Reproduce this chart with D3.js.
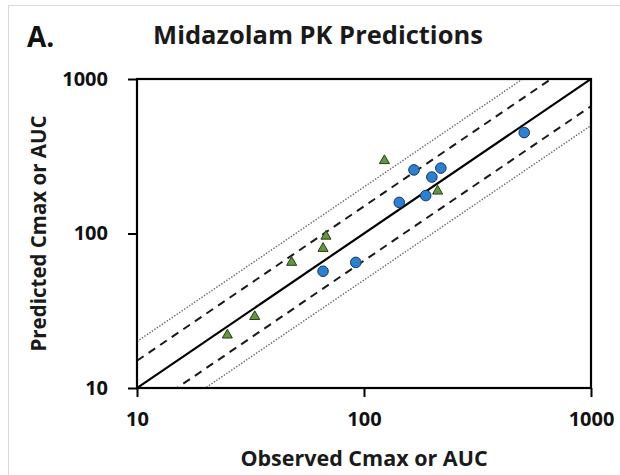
<!DOCTYPE html>
<html>
<head>
<meta charset="utf-8">
<script src="https://cdn.jsdelivr.net/npm/d3@7/dist/d3.min.js"></script>
<style>
  html, body { margin: 0; padding: 0; background: #fff; }
  svg { display: block; font-family: "Open Sans", "DejaVu Sans", sans-serif; }
</style>
</head>
<body>
<svg id="chart" width="620" height="475"></svg>
<script>
// Observed vs predicted exposure (Cmax or AUC), two groups of studies
const circleObserved  = [508, 166, 218, 199, 143, 187, 92, 66];
const circlePredicted = [450, 258, 265, 232, 159, 176, 65, 57];
const triangleObserved  = [123, 211, 68, 66, 48, 33, 25];
const trianglePredicted = [296, 188, 96, 80, 65, 29, 22];

// Unity line plus 1.5-fold and 2-fold bounds
const unityFold = [1];
const innerFolds = [1.5, 1 / 1.5];
const outerFolds = [2, 1 / 2];

const axisDomain = [10, 1000];
const tickValues = [10, 100, 1000];

const titleText = "Midazolam PK Predictions";
const panelLabel = "A.";
const xTitle = "Observed Cmax or AUC";
const yTitle = "Predicted Cmax or AUC";

const svg = d3.select("#chart");
const plot = { left: 137, right: 591, top: 79, bottom: 388 };

// faint outer frame of the figure panel
svg.append("rect")
  .attr("x", 8.5).attr("y", 5.5)
  .attr("width", 640).attr("height", 500)
  .attr("fill", "none").attr("stroke", "#d9d9d9").attr("stroke-width", 1);

const x = d3.scaleLog().domain(axisDomain).range([plot.left, plot.right]);
const y = d3.scaleLog().domain(axisDomain).range([plot.bottom, plot.top]);

svg.append("defs").append("clipPath").attr("id", "plotClip")
  .append("rect")
  .attr("x", plot.left).attr("y", plot.top)
  .attr("width", plot.right - plot.left).attr("height", plot.bottom - plot.top);

const lineLayer = svg.append("g").attr("clip-path", "url(#plotClip)");

function foldLine(f) {
  return d3.line()([
    [x(axisDomain[0]), y(axisDomain[0] * f)],
    [x(axisDomain[1]), y(axisDomain[1] * f)]
  ]);
}

lineLayer.selectAll("path.outer").data(outerFolds).join("path")
  .attr("class", "outer")
  .attr("d", foldLine)
  .attr("fill", "none").attr("stroke", "#666")
  .attr("stroke-width", 1.4).attr("stroke-dasharray", "1.4,1.6");

lineLayer.selectAll("path.inner").data(innerFolds).join("path")
  .attr("class", "inner")
  .attr("d", foldLine)
  .attr("fill", "none").attr("stroke", "#1a1a1a")
  .attr("stroke-width", 2).attr("stroke-dasharray", "8,6");

lineLayer.selectAll("path.unity").data(unityFold).join("path")
  .attr("class", "unity")
  .attr("d", foldLine)
  .attr("fill", "none").attr("stroke", "#000")
  .attr("stroke-width", 2.2);

// markers
const circles = circleObserved.map((v, i) => ({ o: v, p: circlePredicted[i] }));
const triangles = triangleObserved.map((v, i) => ({ o: v, p: trianglePredicted[i] }));

svg.append("g").selectAll("path").data(triangles).join("path")
  .attr("transform", d => `translate(${x(d.o)},${y(d.p)})`)
  .attr("d", d3.symbol().type(d3.symbolTriangle).size(44))
  .attr("fill", "#5f9b3b").attr("stroke", "#2a3a1a").attr("stroke-width", 1);

svg.append("g").selectAll("circle").data(circles).join("circle")
  .attr("cx", d => x(d.o)).attr("cy", d => y(d.p)).attr("r", 5.3)
  .attr("fill", "#2a80d2").attr("stroke", "#1a3558").attr("stroke-width", 1);

// frame
svg.append("rect")
  .attr("x", plot.left).attr("y", plot.top)
  .attr("width", plot.right - plot.left).attr("height", plot.bottom - plot.top)
  .attr("fill", "none").attr("stroke", "#000").attr("stroke-width", 2.2);

// axes
const xAxis = d3.axisBottom(x).tickValues(tickValues).tickFormat(d3.format("d"))
  .tickSize(9).tickPadding(15);
const yAxis = d3.axisLeft(y).tickValues(tickValues).tickFormat(d3.format("d"))
  .tickSize(9).tickPadding(20);

const gx = svg.append("g").attr("transform", `translate(0,${plot.bottom})`).call(xAxis);
const gy = svg.append("g").attr("transform", `translate(${plot.left},0)`).call(yAxis);

[gx, gy].forEach(g => {
  g.select(".domain").remove();
  g.selectAll(".tick line").attr("stroke", "#000").attr("stroke-width", 2);
  g.selectAll(".tick text")
    .attr("fill", "#111")
    .style("font-family", "'Open Sans', sans-serif")
    .style("font-weight", 700)
    .style("font-size", "20px");
});

// titles
svg.append("text")
  .attr("x", 27).attr("y", 47)
  .style("font-weight", 700).style("font-size", "28px")
  .attr("fill", "#111")
  .text(panelLabel);

svg.append("text")
  .attr("x", 318).attr("y", 44)
  .attr("text-anchor", "middle")
  .style("font-weight", 700).style("font-size", "25.5px")
  .attr("fill", "#1a1a1a")
  .text(titleText);

svg.append("text")
  .attr("x", (plot.left + plot.right) / 2).attr("y", 466)
  .attr("text-anchor", "middle")
  .style("font-weight", 700).style("font-size", "21.5px")
  .attr("fill", "#1a1a1a")
  .text(xTitle);

svg.append("text")
  .attr("transform", `translate(46,${(plot.top + plot.bottom) / 2}) rotate(-90)`)
  .attr("text-anchor", "middle")
  .style("font-weight", 700).style("font-size", "20.5px")
  .attr("fill", "#1a1a1a")
  .text(yTitle);
</script>
</body>
</html>
